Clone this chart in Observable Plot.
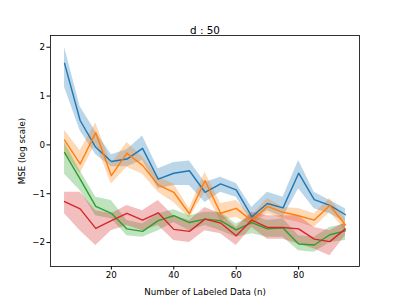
<!DOCTYPE html>
<html><head><meta charset="utf-8">
<script src="https://cdn.jsdelivr.net/npm/d3@7"></script>
<script src="https://cdn.jsdelivr.net/npm/@observablehq/plot@0.6"></script>
<style>body{margin:0;background:#fff}</style>
</head><body><div id="chart"></div>
<script>
const nValues = [5,10,15,20,25,30,35,40,45,50,55,60,65,70,75,80,85,90,95];
const seriesNames = ["s1","s2","s3","s4"];
const seriesColors = ["#1f77b4","#ff7f0e","#2ca02c","#d62728"];
const titleText = "d : 50";
const xLabel = "Number of Labeled Data (n)";
const yLabel = "MSE (log scale)";
const xTicks = [20,40,60,80];
const yTicks = [-2,-1,0,1,2];

const blueMean = [1.67,0.5,-0.05,-0.34,-0.29,-0.07,-0.70,-0.58,-0.53,-0.97,-0.80,-0.92,-1.47,-1.20,-1.29,-0.58,-1.12,-1.24,-1.43];
const blueLo   = [1.18,0.29,-0.2,-0.45,-0.45,-0.32,-0.9,-0.83,-0.83,-1.18,-0.97,-1.07,-1.59,-1.35,-1.48,-0.9,-1.31,-1.41,-1.59];
const blueHi   = [2.0,0.78,0.27,-0.2,-0.1,0.18,-0.49,-0.36,-0.33,-0.77,-0.66,-0.79,-1.28,-0.97,-1.07,-0.32,-0.97,-1.14,-1.31];

const orangeMean = [0.1,-0.39,0.25,-0.63,-0.17,-0.42,-0.82,-0.97,-1.41,-0.73,-1.40,-1.30,-1.55,-1.26,-1.38,-1.45,-1.54,-1.24,-1.64];
const orangeLo   = [-0.15,-0.59,0.03,-0.8,-0.46,-0.6,-0.97,-1.18,-1.5,-0.97,-1.55,-1.48,-1.65,-1.41,-1.51,-1.59,-1.69,-1.38,-1.76];
const orangeHi   = [0.3,-0.12,0.45,-0.39,0.05,-0.25,-0.66,-0.8,-1.3,-0.56,-1.2,-1.14,-1.45,-1.1,-1.28,-1.3,-1.41,-1.1,-1.51];

const greenMean = [-0.16,-0.70,-1.26,-1.40,-1.72,-1.77,-1.55,-1.45,-1.59,-1.52,-1.55,-1.74,-1.59,-1.72,-1.70,-2.03,-2.05,-1.84,-1.76];
const greenLo   = [-0.6,-0.94,-1.45,-1.51,-1.86,-1.89,-1.76,-1.59,-1.76,-1.65,-1.76,-1.89,-1.82,-1.89,-1.89,-2.17,-2.2,-2.0,-1.96];
const greenHi   = [0.05,-0.53,-1.07,-1.14,-1.55,-1.62,-1.41,-1.33,-1.45,-1.38,-1.38,-1.62,-1.45,-1.55,-1.51,-1.86,-1.89,-1.69,-1.62];

const redMean = [-1.16,-1.31,-1.71,-1.55,-1.40,-1.54,-1.39,-1.73,-1.77,-1.52,-1.60,-1.86,-1.54,-1.69,-1.69,-1.72,-1.93,-1.98,-1.72];
const redLo   = [-1.41,-1.76,-2.06,-1.76,-1.65,-1.76,-1.65,-1.96,-2.0,-1.76,-1.82,-2.06,-1.69,-1.93,-1.93,-2.03,-2.13,-2.27,-1.86];
const redHi   = [-0.97,-0.97,-1.35,-1.41,-1.24,-1.35,-1.14,-1.45,-1.55,-1.28,-1.41,-1.69,-1.38,-1.45,-1.45,-1.45,-1.69,-1.76,-1.59];

const table = [
  [blueMean, blueLo, blueHi],
  [orangeMean, orangeLo, orangeHi],
  [greenMean, greenLo, greenHi],
  [redMean, redLo, redHi]
];
const rows = [];
table.forEach(([m, lo, hi], si) => {
  nValues.forEach((n, i) => rows.push({n, series: seriesNames[si], mean: m[i], lo: lo[i], hi: hi[i]}));
});

const chart = Plot.plot({
  width: 399,
  height: 299,
  marginLeft: 50,
  marginRight: 40,
  marginTop: 35,
  marginBottom: 33,
  style: {fontFamily: "DejaVu Sans", fontSize: "8.7px", color: "#000", background: "#fff"},
  x: {domain: [0.5, 99.5]},
  y: {domain: [-2.49, 2.24]},
  color: {domain: seriesNames, range: seriesColors},
  marks: [
    Plot.areaY(rows, {x: "n", y1: "lo", y2: "hi", z: "series", fill: "series", fillOpacity: 0.3}),
    Plot.lineY(rows, {x: "n", y: "mean", z: "series", stroke: "series", strokeWidth: 1.4}),
    Plot.frame({stroke: "#000", strokeWidth: 0.8}),
    Plot.axisX({ticks: xTicks, tickSize: 3.5, tickPadding: 2, tickFormat: d3.format("d"), label: xLabel, labelAnchor: "center", labelArrow: "none", labelOffset: 28}),
    Plot.axisY({ticks: yTicks, tickSize: 3.5, tickPadding: 2, tickFormat: d3.format("d"), label: yLabel, labelAnchor: "center", labelArrow: "none", labelOffset: 32}),
    Plot.text([titleText], {frameAnchor: "top", dy: -9, text: d => d, fontSize: 10.4, fill: "#000"})
  ]
});
document.getElementById("chart").appendChild(chart);
</script>
</body></html>
